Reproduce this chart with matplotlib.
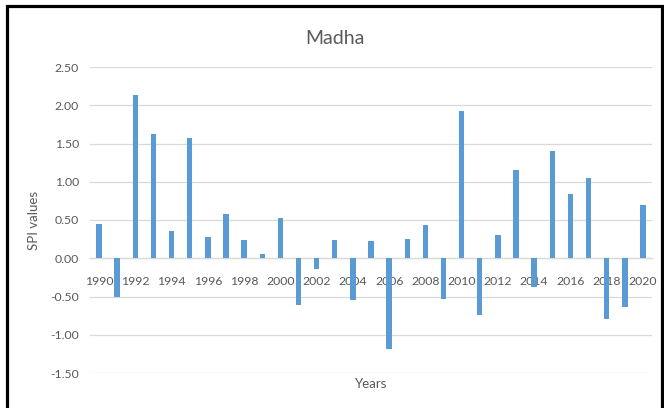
import matplotlib
matplotlib.use("Agg")
import matplotlib.pyplot as plt
from matplotlib.patches import Rectangle

years = list(range(1990, 2021))
spi = [0.45, -0.50, 2.14, 1.63, 0.36, 1.57, 0.28, 0.58, 0.24, 0.05,
       0.52, -0.61, -0.14, 0.24, -0.55, 0.22, -1.19, 0.25, 0.44, -0.53,
       1.93, -0.74, 0.30, 1.16, -0.38, 1.40, 0.84, 1.05, -0.79, -0.64, 0.70]
yticks = [-1.5, -1.0, -0.5, 0.0, 0.5, 1.0, 1.5, 2.0, 2.5]
xtick_years = years[::2]
title = "Madha"
xlabel = "Years"
ylabel = "SPI values"

plt.rcParams['font.family'] = ['Lato', 'DejaVu Sans']
W, H = 664, 408
fig = plt.figure(figsize=(W / 100, H / 100), dpi=100)
fig.patch.set_facecolor('white')

ax = fig.add_axes([90 / W, 1 - 373 / H, (652 - 90) / W, (373 - 67) / H])
gray = '#595959'

ax.bar(years, spi, width=0.3, color='#5b9bd5', zorder=3)
ax.set_xlim(1989.5, 2020.5)
ax.set_ylim(-1.5, 2.5)
ax.set_yticks(yticks)
ax.set_yticklabels([f"{v:.2f}" for v in yticks])
ax.set_xticks(xtick_years)
ax.set_xticklabels([str(y) for y in xtick_years])

ax.grid(axis='y', color='#d9d9d9', linewidth=0.9, zorder=0)
ax.set_axisbelow(True)
for s in ['top', 'right', 'left']:
    ax.spines[s].set_visible(False)
ax.spines['bottom'].set_position(('data', 0))
ax.spines['bottom'].set_color('#d9d9d9')
ax.spines['bottom'].set_linewidth(0.9)
ax.tick_params(axis='y', length=0, pad=8, labelsize=8.8, labelcolor=gray)
ax.tick_params(axis='x', length=0, pad=13, labelsize=8.8, labelcolor=gray)

fig.text(335 / W, 1 - 38 / H, title, ha='center', va='center', fontsize=14, color=gray)
fig.text(371 / W, 1 - 384 / H, xlabel, ha='center', va='center', fontsize=9.5, color=gray)
fig.text(34 / W, 1 - 220 / H, ylabel, ha='center', va='center', rotation=90, fontsize=9.5, color=gray)

border = Rectangle((6.5 / W, -0.2), (661.5 - 6.5) / W, 1.2 - 5.5 / H,
                   transform=fig.transFigure, fill=False, edgecolor='black',
                   linewidth=2.3, clip_on=False)
fig.add_artist(border)

fig.savefig("out.png", dpi=100, facecolor='white')
